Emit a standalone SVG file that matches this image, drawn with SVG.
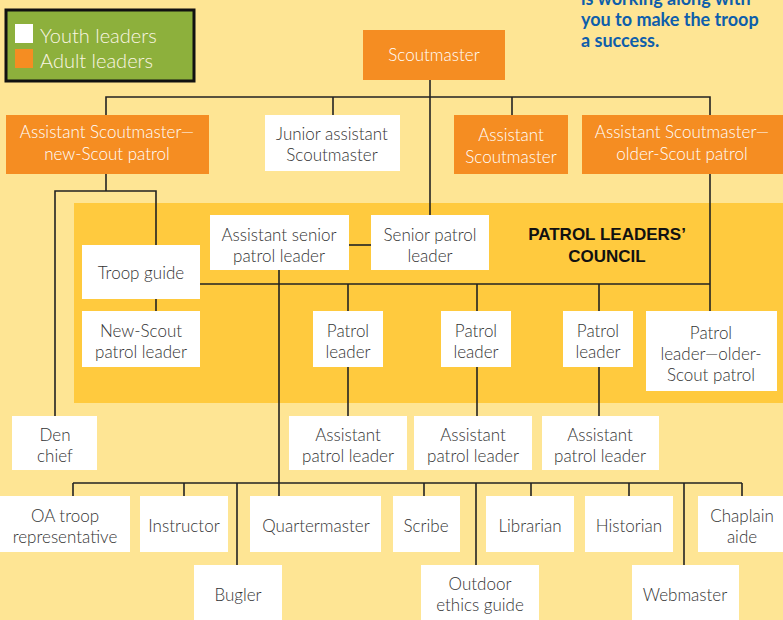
<svg xmlns="http://www.w3.org/2000/svg" width="783" height="620" viewBox="0 0 783 620">
<style>
.bg{fill:#FEE594}
.plc{fill:#FFCA3E}
.y{fill:#FFFFFF}
.a{fill:#F58D22}
.t{font-family:"Lato","Liberation Sans",sans-serif;font-size:17px;font-weight:300;fill:#333333;text-anchor:middle}
.tw{font-family:"Lato","Liberation Sans",sans-serif;font-size:17px;font-weight:300;fill:#FFFFFF;text-anchor:middle}
.c line,.c polyline{stroke:#222222;stroke-width:1.6;fill:none}
</style>
<rect class="bg" x="0" y="0" width="783" height="620"/>
<rect class="plc" x="74" y="203" width="709" height="200"/>
<g id="legend">
<rect x="6" y="10" width="188" height="71" fill="#8DB03C" stroke="#111" stroke-width="3"/>
<rect x="15" y="24" width="18" height="19" fill="#FFFFFF"/>
<rect x="15" y="49" width="18" height="19" fill="#F58D22"/>
<text x="40" y="43" font-family="Lato,'Liberation Sans',sans-serif" font-size="20" font-weight="300" fill="#FBF6E4">Youth leaders</text>
<text x="40" y="68" font-family="Lato,'Liberation Sans',sans-serif" font-size="20" font-weight="300" fill="#FBF6E4">Adult leaders</text>
</g>
<g id="note" font-family="Lato,'Liberation Sans',sans-serif" font-size="18" font-weight="bold" fill="#0E5EAB">
<text x="581" y="5">is working along with</text>
<text x="581" y="26">you to make the troop</text>
<text x="581" y="47">a success.</text>
</g>
<g class="c" id="connectors">
<polyline points="106,115 106,97 710,97 710,115"/>
<line x1="430" y1="80" x2="430" y2="215"/>
<line x1="333" y1="97" x2="333" y2="115"/>
<line x1="512" y1="97" x2="512" y2="115"/>
<polyline points="55,416 55,191 156,191 156,245"/>
<line x1="106" y1="174" x2="106" y2="191"/>
<line x1="710" y1="174" x2="710" y2="311"/>
<line x1="349" y1="245" x2="371" y2="245"/>
<line x1="200" y1="284" x2="710" y2="284"/>
<line x1="156" y1="299" x2="156" y2="311"/>
<line x1="279" y1="270" x2="279" y2="496"/>
<line x1="348" y1="284" x2="348" y2="416"/>
<line x1="477" y1="284" x2="477" y2="416"/>
<line x1="599" y1="284" x2="599" y2="416"/>
<line x1="73" y1="483" x2="742" y2="483"/>
<line x1="73" y1="483" x2="73" y2="496"/>
<line x1="184" y1="483" x2="184" y2="496"/>
<line x1="237" y1="483" x2="237" y2="565"/>
<line x1="424" y1="483" x2="424" y2="496"/>
<line x1="476" y1="483" x2="476" y2="565"/>
<line x1="531" y1="483" x2="531" y2="496"/>
<line x1="629" y1="483" x2="629" y2="496"/>
<line x1="684" y1="483" x2="684" y2="565"/>
<line x1="742" y1="483" x2="742" y2="496"/>
</g>
<g id="scoutmaster"><rect class="a" x="363" y="30" width="142" height="50"/><text class="tw" x="434" y="61">Scoutmaster</text></g>
<g id="asm-new"><rect class="a" x="6" y="115" width="203" height="59"/><text class="tw" x="107" y="138">Assistant Scoutmaster—</text><text class="tw" x="107" y="160">new-Scout patrol</text></g>
<g id="jasm"><rect class="y" x="265" y="115" width="135" height="56"/><text class="t" x="332" y="140">Junior assistant</text><text class="t" x="332" y="161">Scoutmaster</text></g>
<g id="asm"><rect class="a" x="454" y="115" width="114" height="59"/><text class="tw" x="511" y="141">Assistant</text><text class="tw" x="511" y="163">Scoutmaster</text></g>
<g id="asm-older"><rect class="a" x="582" y="115" width="201" height="59"/><text class="tw" x="682" y="138">Assistant Scoutmaster—</text><text class="tw" x="682" y="160">older-Scout patrol</text></g>
<g id="aspl"><rect class="y" x="210" y="215" width="139" height="55"/><text class="t" x="279" y="241">Assistant senior</text><text class="t" x="279" y="262">patrol leader</text></g>
<g id="spl"><rect class="y" x="371" y="215" width="118" height="55"/><text class="t" x="430" y="241">Senior patrol</text><text class="t" x="430" y="262">leader</text></g>
<g id="plc-title" font-family="'Liberation Sans',sans-serif" font-size="17" font-weight="bold" fill="#111" text-anchor="middle"><text x="607" y="240">PATROL LEADERS’</text><text x="607" y="262">COUNCIL</text></g>
<g id="troop-guide"><rect class="y" x="82" y="245" width="118" height="54"/><text class="t" x="141" y="279">Troop guide</text></g>
<g id="nspl"><rect class="y" x="82" y="311" width="118" height="56"/><text class="t" x="141" y="337">New-Scout</text><text class="t" x="141" y="358">patrol leader</text></g>
<g id="pl1"><rect class="y" x="313" y="311" width="70" height="56"/><text class="t" x="348" y="337">Patrol</text><text class="t" x="348" y="358">leader</text></g>
<g id="pl2"><rect class="y" x="441" y="311" width="70" height="56"/><text class="t" x="476" y="337">Patrol</text><text class="t" x="476" y="358">leader</text></g>
<g id="pl3"><rect class="y" x="563" y="311" width="70" height="56"/><text class="t" x="598" y="337">Patrol</text><text class="t" x="598" y="358">leader</text></g>
<g id="pl-older"><rect class="y" x="646" y="311" width="131" height="80"/><text class="t" x="711" y="339">Patrol</text><text class="t" x="711" y="360">leader—older-</text><text class="t" x="711" y="381">Scout patrol</text></g>
<g id="den-chief"><rect class="y" x="12" y="416" width="85" height="54"/><text class="t" x="55" y="441">Den</text><text class="t" x="55" y="462">chief</text></g>
<g id="apl1"><rect class="y" x="289" y="416" width="118" height="54"/><text class="t" x="348" y="441">Assistant</text><text class="t" x="348" y="462">patrol leader</text></g>
<g id="apl2"><rect class="y" x="414" y="416" width="118" height="54"/><text class="t" x="473" y="441">Assistant</text><text class="t" x="473" y="462">patrol leader</text></g>
<g id="apl3"><rect class="y" x="542" y="416" width="117" height="54"/><text class="t" x="600" y="441">Assistant</text><text class="t" x="600" y="462">patrol leader</text></g>
<g id="oa"><rect class="y" x="0" y="496" width="130" height="56"/><text class="t" x="65" y="522">OA troop</text><text class="t" x="65" y="543">representative</text></g>
<g id="instructor"><rect class="y" x="140" y="496" width="88" height="56"/><text class="t" x="184" y="532">Instructor</text></g>
<g id="quartermaster"><rect class="y" x="250" y="496" width="131" height="56"/><text class="t" x="316" y="532">Quartermaster</text></g>
<g id="scribe"><rect class="y" x="393" y="496" width="67" height="56"/><text class="t" x="426" y="532">Scribe</text></g>
<g id="librarian"><rect class="y" x="486" y="496" width="88" height="56"/><text class="t" x="530" y="532">Librarian</text></g>
<g id="historian"><rect class="y" x="585" y="496" width="88" height="56"/><text class="t" x="629" y="532">Historian</text></g>
<g id="chaplain"><rect class="y" x="698" y="496" width="85" height="56"/><text class="t" x="742" y="522">Chaplain</text><text class="t" x="742" y="543">aide</text></g>
<g id="bugler"><rect class="y" x="194" y="565" width="88" height="55"/><text class="t" x="238" y="601">Bugler</text></g>
<g id="outdoor"><rect class="y" x="421" y="565" width="118" height="55"/><text class="t" x="480" y="590">Outdoor</text><text class="t" x="480" y="611">ethics guide</text></g>
<g id="webmaster"><rect class="y" x="632" y="565" width="107" height="55"/><text class="t" x="685" y="601">Webmaster</text></g>
</svg>
